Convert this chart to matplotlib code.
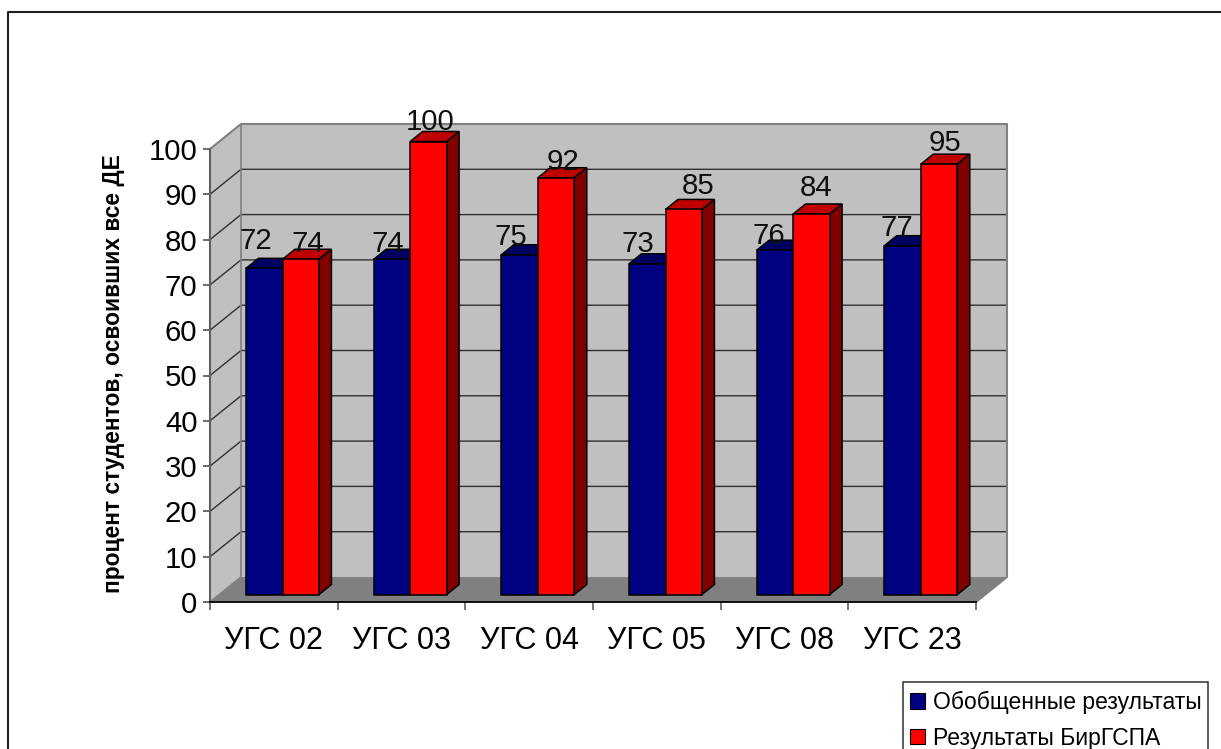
import matplotlib
matplotlib.use('Agg')
import matplotlib.pyplot as plt
from matplotlib.lines import Line2D
from matplotlib.patches import Patch, Polygon, Rectangle

plt.rcParams['font.family'] = ['Liberation Sans', 'DejaVu Sans']

# data
categories = ['УГС 02', 'УГС 03', 'УГС 04', 'УГС 05', 'УГС 08', 'УГС 23']
general = [72, 74, 75, 73, 76, 77]
birgspa = [74, 100, 92, 85, 84, 95]
series_names = ['Обобщенные результаты', 'Результаты БирГСПА']
y_ticks = list(range(0, 101, 10))
y_title = 'процент студентов, освоивших все ДЕ'

# label offsets from the top of each bar, pixels
general_off = [(-9, 27), (-5, 15), (-9, 18), (-10, 20), (-7, 14), (-6, 18)]
birgspa_off = [(6, 15), (1, 19), (6, 16), (14, 23), (4, 26), (5, 21)]

W, H = 1221, 749
fig = plt.figure(figsize=(W / 100, H / 100), dpi=100, facecolor='white')

# front edge of the plot, in pixels of the picture
left, right, top, bottom = 210, 976, 149, 602
ax = fig.add_axes([left / W, 1 - bottom / H, (right - left) / W, (bottom - top) / H])
ax.set_xlim(0, len(categories))
ax.set_ylim(0, 100)
ax.patch.set_visible(False)

# oblique depth in data units
cat_px = (right - left) / len(categories)
unit_px = (bottom - top) / 100
depth_x = 31 / cat_px
depth_y = 25 / unit_px
n = len(categories)

wall = '#c0c0c0'
grey = '#808080'


def add_poly(pts, color, edge='none', lw=0, z=1):
    ax.add_patch(Polygon(pts, closed=True, facecolor=color, edgecolor=edge, linewidth=lw,
                         clip_on=False, zorder=z, joinstyle='miter'))


# walls and floor
add_poly([(0, 0), (depth_x, depth_y), (depth_x, 100 + depth_y), (0, 100)], wall)
add_poly([(depth_x, depth_y), (n + depth_x, depth_y), (n + depth_x, 100 + depth_y), (depth_x, 100 + depth_y)], wall)
add_poly([(0, 0), (n, 0), (n + depth_x, depth_y), (depth_x, depth_y)], grey)

for t in y_ticks[1:-1]:
    ax.plot([0, depth_x, n + depth_x], [t, t + depth_y, t + depth_y], color='#303030', lw=1.0,
            clip_on=False, zorder=2)
ax.plot([0, depth_x, n + depth_x, n + depth_x, n],
        [100, 100 + depth_y, 100 + depth_y, depth_y, 0], color=grey, lw=1.5, clip_on=False, zorder=2)
ax.plot([0, depth_x, depth_x], [0, depth_y, 100 + depth_y], color=grey, lw=1.2, clip_on=False, zorder=2)

# bars
bar_w = 36.5 / cat_px
front = 0.3
back = 0.7


def draw_bar(x0, val, face, top_col, side_col, z):
    x1 = x0 + bar_w
    fx, fy = depth_x * front, depth_y * front
    bx, by = depth_x * back, depth_y * back
    ek = dict(edge='black', lw=1.1, z=z)
    add_poly([(x0 + fx, val + fy), (x1 + fx, val + fy), (x1 + bx, val + by), (x0 + bx, val + by)], top_col, **ek)
    add_poly([(x1 + fx, fy), (x1 + bx, by), (x1 + bx, val + by), (x1 + fx, val + fy)], side_col, **ek)
    ax.bar(x0 + fx, val, width=bar_w, bottom=fy, align='edge', color=face, edgecolor='black',
           linewidth=1.1, clip_on=False, zorder=z)


for i in range(n):
    c = i + 0.5 - 0.6 / cat_px
    draw_bar(c - bar_w, general[i], '#000080', '#000060', '#000040', 3 + i * 0.01)
    draw_bar(c, birgspa[i], '#ff0000', '#c00000', '#800000', 3.005 + i * 0.01)

# value labels
for i in range(n):
    for val, off, shift in ((general[i], general_off[i], -bar_w / 2), (birgspa[i], birgspa_off[i], bar_w / 2)):
        ax.annotate(str(val), (i + 0.5 + shift + depth_x * front, val + depth_y * front), xytext=off,
                    textcoords='offset pixels', ha='center', va='center', fontsize=21.2,
                    color='#101010', zorder=6, annotation_clip=False)

# axes
for s in ('top', 'right'):
    ax.spines[s].set_visible(False)
ax.spines['left'].set_color('#606060')
ax.spines['left'].set_linewidth(1.5)
ax.spines['bottom'].set_color('black')
ax.spines['bottom'].set_linewidth(1.3)
ax.spines['left'].set_zorder(5)
ax.spines['bottom'].set_zorder(5)
ax.set_yticks(y_ticks)
ax.set_xticks(range(n + 1))
ax.set_xticklabels([])
ax.set_xticks([i + 0.5 for i in range(n)], minor=True)
ax.set_xticklabels(categories, minor=True, fontsize=22)
ax.tick_params(axis='x', which='minor', length=0, pad=17)
ax.tick_params(axis='x', which='major', length=6, width=1.1, color='#505050')
ax.tick_params(axis='y', length=5, width=1.3, color='#606060', labelsize=21.2, pad=4)
ax.set_ylabel(y_title, fontsize=16.4, fontweight='bold', labelpad=0)
ax.yaxis.set_label_coords((125 - left) / (right - left), 0.505)

# outer frame, right and bottom sides are outside the picture
fig.add_artist(Line2D([8 / W, 8 / W, 1], [0, 1 - 12 / H, 1 - 12 / H], color='#202020', lw=1.5))

# legend box runs past the bottom edge
fig.add_artist(Rectangle((903 / W, -0.02), 305 / W, 1 - 682 / H + 0.02, facecolor='white', edgecolor='#303030', lw=1.1))
handles = [Patch(facecolor='#000080', edgecolor='black', linewidth=0.8),
           Patch(facecolor='#ff0000', edgecolor='black', linewidth=0.8)]
fig.legend(handles, series_names, loc='upper left', bbox_to_anchor=(910 / W, 1 - 691 / H), frameon=False,
           fontsize=16.5, handlelength=0.65, handleheight=0.65, handletextpad=0.35, labelspacing=0.55,
           borderpad=0, borderaxespad=0)

fig.savefig('out.png', dpi=100)
